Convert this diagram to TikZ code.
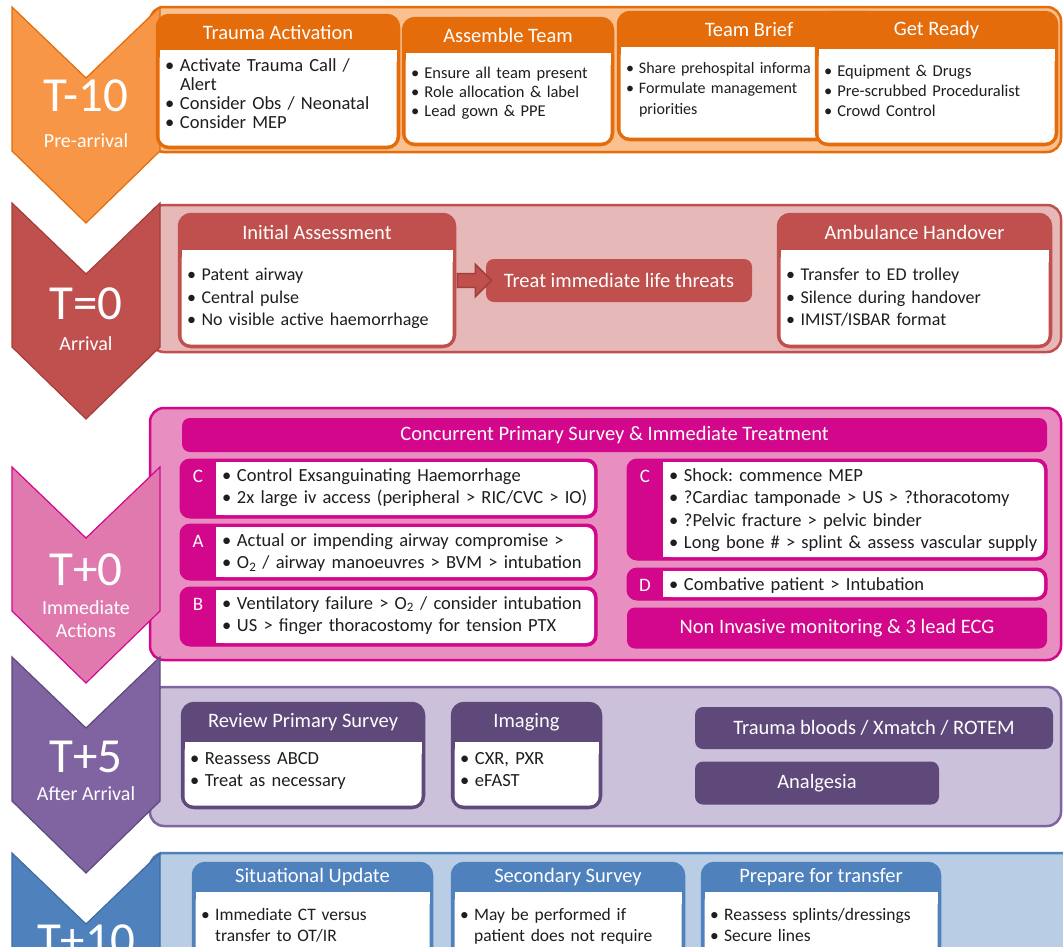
\documentclass[tikz,border=0pt]{standalone}
\usepackage{fontspec}
\setmainfont{Carlito}
\usetikzlibrary{positioning, arrows.meta, shapes.arrows}
\frenchspacing

\definecolor{orgdark}{HTML}{E46C0A}
\definecolor{orglight}{HTML}{FAC08F}
\definecolor{orgchev}{HTML}{F79646}
\definecolor{reddark}{HTML}{C0504D}
\definecolor{redlight}{HTML}{E6B9B8}
\definecolor{redline}{HTML}{A23F3C}
\definecolor{magdark}{HTML}{D2078B}
\definecolor{maglight}{HTML}{E98EC0}
\definecolor{magchev}{HTML}{E07AAE}
\definecolor{purdark}{HTML}{5F497A}
\definecolor{purlight}{HTML}{CCC1DA}
\definecolor{purchev}{HTML}{8064A2}
\definecolor{bludark}{HTML}{4F81BD}
\definecolor{blulight}{HTML}{B9CDE5}
\definecolor{bluline}{HTML}{3F6CA3}
\definecolor{textgrey}{HTML}{1E1E1E}
\colorlet{cardcol}{orgdark}

\newcommand{\bl}{\makebox[0.8em][l]{\textbullet}}
\newcommand{\cont}{\hspace*{0.8em}}
\newcommand{\bodydrop}{8}

% chevron: top y, fill, border
\newcommand{\chevron}[3]{%
  \filldraw[chev, fill=#2, draw=#3] (12,#1) -- (86,{#1+71}) -- (160,#1)
    -- (160,{#1+144}) -- (86,{#1+216}) -- (12,{#1+144}) -- cycle;}

% card: [body opts] name, x1, y1, x2, y2, header bottom, title, body
\newcommand{\card}[9][]{%
  \node[cardframe, minimum width={#5-#3}, minimum height={#6-#4}] (#2) at ({(#3+#5)/2},{(#4+#6)/2}) {};
  \fill[white, rounded corners=9pt] ({#3+2.5},{#7}) rectangle ({#5-2.5},{#6-2.5});
  \fill[white] ({#3+2.5},{#7}) rectangle ({#5-2.5},{#7+12});
  \node[cardtitle] (#2-t) at ({(#3+#5)/2},{(#4+#7)/2}) {#8};
  \node[cardtext, text width={#5-#3-14}, #1] (#2-b) at ({#3+8},{#7+\bodydrop}) {#9};}

% lettered row: name, x1, y1, x2, y2, letter, body
\newcommand{\abcrow}[7]{%
  \node[rowframe, minimum width={#4-#2}, minimum height={#5-#3}] (#1) at ({(#2+#4)/2},{(#3+#5)/2}) {};
  \fill[white, rounded corners=8pt] ({#2+36},{#3+3}) rectangle ({#4-3},{#5-3});
  \fill[white] ({#2+36},{#3+3}) rectangle ({#2+50},{#5-3});
  \node[abcletter] (#1-l) at ({#2+18},{#3+17}) {#6};
  \node[cardtext, text width={#4-#2-44}] (#1-b) at ({#2+42},{#3+9}) {#7};}

\tikzset{
  band/.style={rounded corners=14pt, line width=2.5pt},
  chev/.style={line width=1.2pt},
  chevbig/.style={text=white, font=\fontsize{49}{49}\selectfont, inner sep=0pt},
  chevsmall/.style={text=white, font=\fontsize{20}{23}\selectfont, inner sep=0pt, align=center},
  cardframe/.style={draw=cardcol, fill=cardcol, rounded corners=12pt, line width=2.5pt, inner sep=0pt},
  cardtitle/.style={text=white, font=\fontsize{20.5}{22}\selectfont, inner sep=0pt},
  cardtext/.style={anchor=north west, align=left, inner sep=0pt, text=textgrey,
    font=\fontsize{18.5}{22.5}\selectfont},
  rowframe/.style={draw=magdark, fill=magdark, rounded corners=10pt, line width=1pt, inner sep=0pt},
  abcletter/.style={text=white, font=\fontsize{19}{20}\selectfont, inner sep=0pt},
  bar/.style={fill=#1, rounded corners=8pt, text=white, font=\fontsize{20.5}{22}\selectfont, inner sep=0pt},
  fatarrow/.style={single arrow, fill=reddark, draw=redline, line width=1.5pt,
    single arrow head extend=9pt, inner sep=6pt, minimum height=34pt, minimum width=32pt}
}

\begin{document}
\begin{tikzpicture}[x=1pt, y=-1pt]
    \path[use as bounding box, clip] (0,0) rectangle (1063,946);
    \fill[white] (0,0) rectangle (1063,946);

    % T-10 pre-arrival
    \draw[band, fill=orglight, draw=orgdark] (150,7) rectangle (1061,152);
    \chevron{7}{orgchev}{orgdark}
    \node[chevbig] (t10) at (86,96) {T-10};
    \node[chevsmall] (t10sub) at (86,141) {Pre-arrival};
    \begin{scope}[cardtext/.append style={font=\fontsize{16.5}{20}\selectfont}]
    \colorlet{cardcol}{orgdark}
    \card[font=\fontsize{18.5}{19}\selectfont]{ta}{157}{15}{399}{148}{50}{Trauma Activation}%
      {\bl Activate Trauma Call /\\\cont Alert\\\bl Consider Obs / Neonatal\\\bl Consider MEP}
    \card[yshift=-6pt, font=\fontsize{16.5}{19}\selectfont]{at}{403}{18}{613}{145}{53}{Assemble Team}%
      {\bl Ensure all team present\\\bl Role allocation \& label\\\bl Lead gown \& PPE}
    \card[yshift=-7pt, text width=210, font=\fontsize{16}{20.5}\selectfont]{tb}{618}{12}{880}{140}{47}{Team Brief}%
      {\bl Share prehospital informa\\\bl Formulate management\\\cont priorities}
    \card[yshift=-8pt]{gr}{816}{12}{1057}{145}{49}{Get Ready}%
      {\bl Equipment \& Drugs\\\bl Pre-scrubbed Proceduralist\\\bl Crowd Control}
    \end{scope}

    % T=0 arrival
    \renewcommand{\bodydrop}{18}
    \draw[band, fill=redlight, draw=reddark] (150,205) rectangle (1061,352);
    \chevron{203}{reddark}{redline}
    \node[chevbig] (t0) at (86,304) {T=0};
    \node[chevsmall] (t0sub) at (86,344) {Arrival};
    \colorlet{cardcol}{reddark}
    \begin{scope}[cardtext/.append style={font=\fontsize{18}{22.5}\selectfont}]
    \card{ia}{179}{214}{455}{347}{250}{Initial Assessment}%
      {\bl Patent airway\\\bl Central pulse\\\bl No visible active haemorrhage}
    \card{ah}{778}{214}{1051}{347}{250}{Ambulance Handover}%
      {\bl Transfer to ED trolley\\\bl Silence during handover\\\bl IMIST/ISBAR format}
    \end{scope}
    \node[bar=reddark, minimum width=266, minimum height=43] (treat) at (619,280.5) {Treat immediate life threats};
    \path (ia.east) -- node[fatarrow] (iaarrow) {} (treat.west);

    % T+0 immediate actions
    \draw[band, fill=maglight, draw=magdark] (150,408) rectangle (1061,660);
    \chevron{467}{magchev}{magdark}
    \node[chevbig] (tp0) at (86,570) {T+0};
    \node[chevsmall] (tp0sub) at (86,619) {Immediate\\Actions};
    \node[bar=magdark, minimum width=865, minimum height=34] (cps) at (614.5,435)
      {Concurrent Primary Survey \& Immediate Treatment};
    \abcrow{rowc}{180}{459}{597}{518}{C}%
      {\bl Control Exsanguinating Haemorrhage\\\bl 2x large iv access (peripheral > RIC/CVC > IO)}
    \abcrow{rowa}{180}{524}{597}{580}{A}%
      {\bl Actual or impending airway compromise >\\\bl O\textsubscript{2} / airway manoeuvres > BVM > intubation}
    \abcrow{rowb}{180}{587}{597}{646}{B}%
      {\bl Ventilatory failure > O\textsubscript{2} / consider intubation\\\bl US > finger thoracostomy for tension PTX}
    \abcrow{rowcc}{627}{459}{1047}{560}{C}%
      {\bl Shock: commence MEP\\\bl ?Cardiac tamponade > US > ?thoracotomy\\\bl ?Pelvic fracture > pelvic binder\\\bl Long bone \# > splint \& assess vascular supply}
    \abcrow{rowd}{627}{568}{1047}{600}{D}%
      {\bl Combative patient > Intubation}
    \node[bar=magdark, minimum width=420, minimum height=41] (nim) at (837,628)
      {Non Invasive monitoring \& 3 lead ECG};

    % T+5 after arrival
    \renewcommand{\bodydrop}{10}
    \draw[band, fill=purlight, draw=purchev] (150,687) rectangle (1061,826);
    \chevron{657}{purchev}{purdark}
    \node[chevbig] (t5) at (86,757) {T+5};
    \node[chevsmall] (t5sub) at (86,794) {After Arrival};
    \colorlet{cardcol}{purdark}
    \card{rps}{182}{703}{424}{808}{742}{Review Primary Survey}%
      {\bl Reassess ABCD\\\bl Treat as necessary}
    \card{img}{452}{703}{601}{808}{742}{Imaging}%
      {\bl CXR, PXR\\\bl eFAST}
    \node[bar=purdark, minimum width=358, minimum height=42] (blood) at (874,728) {Trauma bloods / Xmatch / ROTEM};
    \node[bar=purdark, minimum width=244, minimum height=43] (analg) at (817,783) {Analgesia};

    % T+10
    \renewcommand{\bodydrop}{16}
    \draw[band, fill=blulight, draw=bludark] (150,853) rectangle (1080,1010);
    \chevron{853}{bludark}{bluline}
    \node[chevbig] (t10b) at (86,941) {T+10};
    \colorlet{cardcol}{bludark}
    \begin{scope}[cardtext/.append style={font=\fontsize{17.5}{21}\selectfont}]
    \card{su}{193}{863}{432}{1010}{892}{Situational Update}%
      {\bl Immediate CT versus\\\cont transfer to OT/IR}
    \card{ss}{452}{863}{684}{1010}{892}{Secondary Survey}%
      {\bl May be performed if\\\cont patient does not require}
    \card{pt}{702}{863}{940}{1010}{892}{Prepare for transfer}%
      {\bl Reassess splints/dressings\\\bl Secure lines}
    \end{scope}
\end{tikzpicture}
\end{document}
